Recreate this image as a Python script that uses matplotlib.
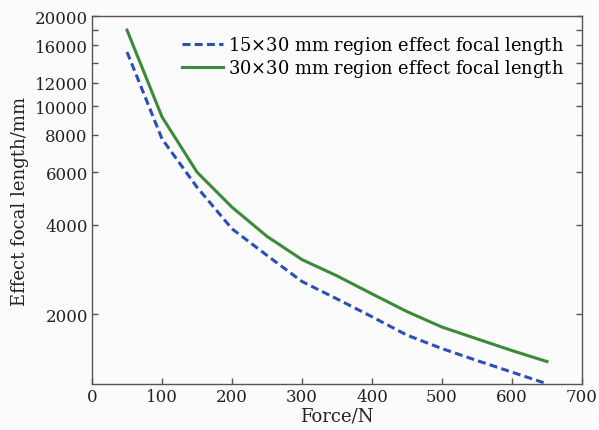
import matplotlib
matplotlib.use('Agg')
from matplotlib import pyplot as plt
from matplotlib.ticker import NullLocator

force = [50, 100, 150, 200, 250, 300, 350, 400, 450, 500, 550, 600, 650]
f_15x30 = [15200, 7760, 5340, 3870, 3150, 2575, 2250, 1960, 1700, 1532, 1397, 1277, 1167]
f_30x30 = [18000, 9200, 6000, 4575, 3650, 3050, 2690, 2340, 2040, 1810, 1652, 1509, 1386]

yticks = [2000, 4000, 6000, 8000, 10000, 12000, 14000, 16000, 18000, 20000]
ylabels = ['2000', '4000', '6000', '8000', '10000', '12000', '', '16000', '', '20000']
xticks = [0, 100, 200, 300, 400, 500, 600, 700]

plt.rcParams['font.family'] = 'DejaVu Serif'
plt.rcParams['mathtext.fontset'] = 'dejavuserif'

fig = plt.figure(figsize=(5.99, 4.31), dpi=100, facecolor='#fbfbfb')
ax = fig.add_axes([0.1536, 0.1067, 0.818, 0.8527])
ax.set_facecolor('#fbfbfb')

ax.plot(force, f_15x30, color='#2a4fb5', lw=2.2, ls=(0, (2.6, 1.4)),
        label='15$\\times$30 mm region effect focal length')
ax.plot(force, f_30x30, color='#3a8a3a', lw=2.2,
        label='30$\\times$30 mm region effect focal length')

ax.set_yscale('log')
ax.set_xlim(0, 700)
ax.set_ylim(1165, 20000)
ax.set_xticks(xticks)
ax.set_yticks(yticks)
ax.set_yticklabels(ylabels)
ax.yaxis.set_minor_locator(NullLocator())

for s in ax.spines.values():
    s.set_color('#555555')
    s.set_linewidth(1.0)
ax.tick_params(direction='in', length=4, width=1, color='#555555',
               labelsize=12, right=True, labelcolor='#222222', pad=3)

ax.set_xlabel('Force/N', fontsize=13, color='#222222', labelpad=1)
ax.set_ylabel('Effect focal length/mm', fontsize=13, color='#222222', labelpad=4)

ax.legend(loc='upper right', frameon=False, fontsize=12.85, handlelength=2.3,
          handletextpad=0.3, labelspacing=0.05, borderaxespad=0.6,
          bbox_to_anchor=(1.0, 1.0))

fig.savefig('out.png', dpi=100, facecolor=fig.get_facecolor())
